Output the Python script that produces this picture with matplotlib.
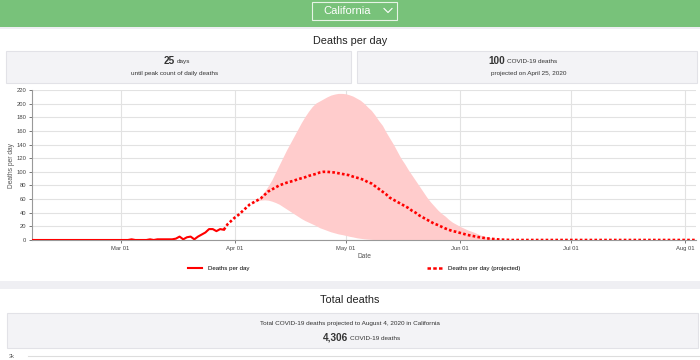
import matplotlib
matplotlib.use("Agg")
import matplotlib.pyplot as plt
import matplotlib.dates as mdates
from matplotlib.patches import Rectangle
from matplotlib.lines import Line2D
import numpy as np
import pandas as pd

plt.rcParams['font.family'] = ['Liberation Sans', 'DejaVu Sans']

# observed daily deaths, Feb 06 .. Mar 29
actual_start = "2020-02-06"
actual_deaths = [0] * 27 + [
    1, 0, 0, 0, 0, 1, 0, 1, 1, 1, 1, 1,        # Mar 04 - Mar 15
    2, 5, 1, 4, 5, 1, 5, 8, 11, 16, 16, 13, 16, 15,  # Mar 16 - Mar 29
]

# projection, Mar 29 .. Jun 14 (zero afterwards up to Aug 04)
proj_start, proj_end = "2020-03-29", "2020-08-04"
proj_deaths = [
    15, 23, 28,
    33, 37, 42, 47, 52, 55, 58, 61, 66, 71, 74, 77, 80, 82, 84,
    85.5, 87, 89, 90.5, 92, 94, 95.5, 97, 99, 100, 100, 99.5, 99, 98, 97,
    96, 95, 93, 91.5, 90, 88, 85, 83, 79, 75, 71, 67, 62, 59, 56, 53,
    50, 47, 43, 40, 36, 33, 30, 27, 24, 22, 19.5, 17, 15, 13, 12,
    10.5, 9, 7.5, 6.4, 5.3, 4.3, 3.4, 2.6, 2, 1.5, 1.0, 0.6, 0.4, 0.2,
]
proj_upper = [
    15, 23, 28,
    33, 37, 42, 47, 52, 56, 60, 64, 71, 79, 88, 99, 110, 121, 132,
    142, 152, 162, 172, 181, 189, 196, 201, 204, 207, 210, 212.5, 214, 215, 215,
    214.5, 213, 211, 208, 205, 200.5, 195, 190, 183, 175, 168, 158, 149, 140, 130, 120,
    112, 103, 95, 87, 79, 71, 63, 56, 50, 44, 39, 35, 30, 26, 23,
    20, 17.5, 15, 13, 11, 8.5, 6.5, 5, 3.8, 2.7, 1.8, 1.0, 0.6, 0.3,
]
proj_lower = [
    15, 23, 28,
    33, 37, 42, 47, 52, 55, 57, 58.5, 59, 58.5, 57, 55, 52.5, 49, 45.5,
    42, 38.5, 35, 31.5, 28.5, 26, 23.5, 21, 18, 16, 14, 12, 10.5, 9, 8,
    6.8, 5.5, 4.5, 3.3, 2.5, 1.8, 1.3, 0.9, 0.6, 0.4, 0.2, 0.1,
]

y_ticks = list(range(0, 221, 20))
month_ticks = ["2020-03-01", "2020-04-01", "2020-05-01", "2020-06-01", "2020-07-01", "2020-08-01"]

W, H = 700, 360
RED = "#ff0000"


def fx(x):
    return x / W


def fy(y):
    return 1 - y / H


def box(fig, x, y, w, h, fc, ec="none", lw=0.8):
    fig.add_artist(Rectangle((fx(x), fy(y + h)), w / W, h / H, transform=fig.transFigure,
                             facecolor=fc, edgecolor=ec, linewidth=lw, zorder=0))


def pad(vals, n):
    return np.array(list(vals) + [0] * (n - len(vals)), dtype=float)


a_dates = pd.date_range(actual_start, periods=len(actual_deaths))
p_dates = pd.date_range(proj_start, proj_end)
p_mid = pad(proj_deaths, len(p_dates))
p_up = pad(proj_upper, len(p_dates))
p_lo = pad(proj_lower, len(p_dates))

fig = plt.figure(figsize=(7, 3.6), dpi=100)
fig.patch.set_facecolor("#efeff3")

# page chrome
box(fig, 0, 0, 700, 27, "#78c27a")
box(fig, 312, 2, 85, 18, "none", ec="#e6f4e6", lw=0.8)
fig.text(fx(347), fy(11), "California", color="white", fontsize=8, ha="center", va="center")
fig.add_artist(Line2D([fx(384), fx(388), fx(392)], [fy(8.5), fy(12.5), fy(8.5)],
                      transform=fig.transFigure, color="white", lw=0.8))

box(fig, 0, 29, 700, 252, "white")
fig.text(0.5, fy(41), "Deaths per day", fontsize=7.8, ha="center", va="center", color="#222")
box(fig, 6, 51, 345, 32, "#f3f3f6", ec="#e2e2e7")
box(fig, 357, 51, 340, 32, "#f3f3f6", ec="#e2e2e7")
fig.text(fx(175), fy(61), "25", fontsize=7.2, fontweight="bold", ha="right", va="center", color="#333")
fig.text(fx(177), fy(61.5), "days", fontsize=4.6, ha="left", va="center", color="#333")
fig.text(fx(175), fy(74), "until peak count of daily deaths", fontsize=4.6, ha="center", va="center", color="#333")
fig.text(fx(505), fy(61), "100", fontsize=7.2, fontweight="bold", ha="right", va="center", color="#333")
fig.text(fx(507), fy(61.5), "COVID-19 deaths", fontsize=4.6, ha="left", va="center", color="#333")
fig.text(fx(529), fy(74), "projected on April 25, 2020", fontsize=4.6, ha="center", va="center", color="#333")

box(fig, 0, 289, 700, 80, "white")
fig.text(0.5, fy(300), "Total deaths", fontsize=7.8, ha="center", va="center", color="#222")
box(fig, 7, 313, 691, 35, "#f3f3f6", ec="#e2e2e7")
fig.text(0.5, fy(323), "Total COVID-19 deaths projected to August 4, 2020 in California",
         fontsize=4.6, ha="center", va="center", color="#333")
fig.text(fx(348), fy(338), "4,306", fontsize=7.2, fontweight="bold", ha="right", va="center", color="#333")
fig.text(fx(350), fy(338.5), "COVID-19 deaths", fontsize=4.6, ha="left", va="center", color="#333")
fig.add_artist(Line2D([fx(28), fx(700)], [fy(356), fy(356)], transform=fig.transFigure,
                      color="#dddddd", lw=0.8))
fig.text(fx(12), fy(356), "3k", fontsize=4, ha="center", va="center", color="#555")

# chart
ax = fig.add_axes([fx(32), fy(240), (696 - 32) / W, 150 / H])
ax.set_facecolor("white")
ax.fill_between(p_dates, p_lo, p_up, color="#ffcccc", lw=0, zorder=1)
ax.plot(a_dates, actual_deaths, color=RED, lw=1.5, zorder=3, label="Deaths per day")
ax.plot(p_dates, p_mid, color=RED, lw=1.9, linestyle=(0, (1, 0.85)), zorder=3,
        label="Deaths per day (projected)")

ax.set_xlim(pd.Timestamp(actual_start), pd.Timestamp(proj_end))
ax.set_ylim(0, 220)
ax.set_yticks(y_ticks)
ax.set_xticks(pd.to_datetime(month_ticks))
ax.xaxis.set_major_formatter(mdates.DateFormatter("%b %d"))
ax.tick_params(labelsize=4.2, colors="#444", length=2, width=0.5, pad=2)
ax.grid(True, color="#e2e2e2", lw=0.8)
ax.set_axisbelow(True)
for s in ["top", "right"]:
    ax.spines[s].set_visible(False)
for s in ["left", "bottom"]:
    ax.spines[s].set_color("#999999")
    ax.spines[s].set_linewidth(0.8)
ax.set_xlabel("Date", fontsize=4.8, color="#555", labelpad=2)
ax.set_ylabel("Deaths per day", fontsize=4.8, color="#555", labelpad=1)

handles, labels = ax.get_legend_handles_labels()
handles[1] = Line2D([], [], color=RED, lw=1.8, linestyle=(0, (1.4, 0.9)))
fig.legend(handles, labels, loc="center", bbox_to_anchor=(fx(354), fy(268)), ncol=2,
           frameon=False, fontsize=4.4, handlelength=2.4, handletextpad=1.0, columnspacing=29)

fig.savefig("out.png", dpi=100, facecolor=fig.get_facecolor())
